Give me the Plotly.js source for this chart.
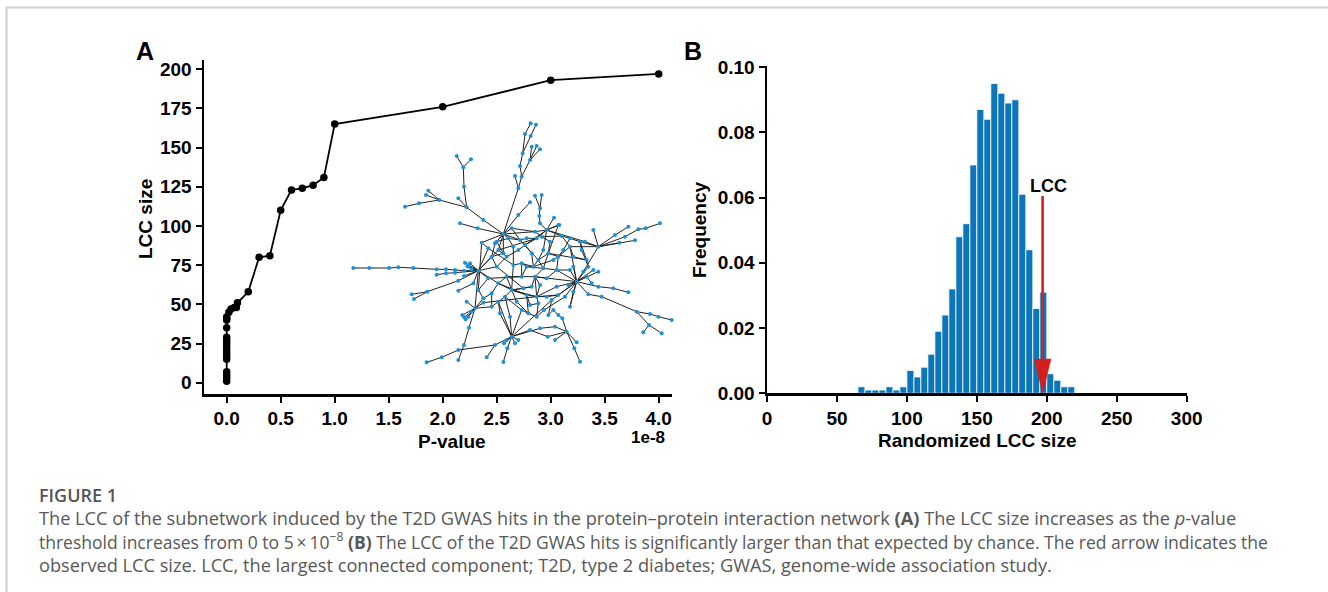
<!DOCTYPE html>
<html>
<head>
<meta charset="utf-8">
<script src="https://cdn.plot.ly/plotly-3.0.1.min.js"></script>
<style>html,body{margin:0;padding:0;background:#fff;}#chart{width:1328px;height:592px;}</style>
</head>
<body>
<div id="chart"></div>
<script>
// ---------- Panel A data (p-value threshold in units of 1e-8) ----------
const pValue = [0,0,0,0,0,0,0,0,0,0,0,0,0,0,0,0,0.02,0.04,0.07,0.09,0.1,0.2,0.3,0.4,0.5,0.6,0.7,0.8,0.9,1.0,2.0,3.0,4.0];
const lccSize = [1,3,5,7,15,17,19,21,23,25,27,29,35,40,41,42,45,47,48,48,51,58,80,81,110,123,124,126,131,165,176,193,197];
const xTicksA = [0,0.5,1,1.5,2,2.5,3,3.5,4];
const yTicksA = [0,25,50,75,100,125,150,175,200];

// ---------- Panel A inset: network layout (node positions in a 1050 x 810 layout box) ----------
const netX = [415,490,710,515,515,405,775,620,535,380,560,625,470,590,40,88,147,175,220,290,318,345,372,290,318,345,375,382,390,395,372,385,215,222,262,355,355,400,195,237,298,265,258,350,393,370,372,355,430,360,413,545,525,540,548,555,572,588,570,575,590,600,572,570,585,605,600,598,600,642,658,535,825,865,895,917,960,855,885,838,760,735,755,775,820,865,745,785,730,760,775,700,685,690,890,930,955,995,927,910,965,720,703,680,710,645,623,570,625,640,655,667,675,635,260,305,355,355,465,440,490,502,525,492,387,372,367,373,377,385,393,380,430,500,535,425,445,470,475,455,490,505,515,540,535,555,585,590,605,655,665,690,690,720,655,640,595,580,545,545,585,610,650,740,745,500,520,500,550,560,575,595,475,445,455,430,415,455,475,495,545,565,590,612,655,600,645,465,520,560,575,610,630,670,700,725,690,620,650,600,530,480,510,570,620,700,740];
const netY = [482,372,515,540,680,595,410,360,235,292,470,430,470,560,474,474,474,472,474,478,478,480,482,494,490,488,458,468,460,478,498,470,553,567,545,512,542,520,290,280,270,242,255,138,148,172,230,265,330,340,355,200,198,168,130,72,40,44,150,110,108,118,78,277,257,255,295,318,340,323,345,315,375,350,358,355,340,380,391,398,360,395,520,530,535,547,553,560,485,480,485,470,525,590,605,612,620,630,645,667,670,755,715,665,697,690,680,660,615,600,615,625,560,570,757,742,720,750,705,742,756,715,700,700,653,705,615,622,628,620,605,575,578,690,690,398,415,395,420,440,430,385,355,390,420,405,365,385,380,345,378,385,410,395,440,450,450,470,460,500,500,475,480,450,470,440,465,500,535,555,530,580,520,505,550,565,540,590,575,560,600,610,620,600,555,655,650,400,410,385,430,420,395,420,440,420,480,505,530,525,575,610,620,585,560,545,500];
const edgeFrom = [14,15,16,17,18,19,20,21,22,23,24,25,26,27,28,29,30,31,32,33,34,35,36,37,38,39,41,42,40,43,44,45,46,47,9,48,49,50,8,8,8,51,53,54,55,54,62,51,58,58,58,63,71,64,65,66,67,68,69,70,6,72,6,6,6,77,74,75,6,81,7,2,83,84,2,86,2,88,2,2,2,2,2,87,94,95,96,94,98,98,101,102,104,103,103,106,107,108,109,110,108,113,112,111,114,115,116,118,119,120,121,122,123,133,134,5,124,125,126,127,128,129,130,131,0,5,132,1,1,1,1,1,1,142,1,146,148,150,151,153,1,143,156,161,162,0,136,0,139,0,138,147,0,173,159,160,0,12,165,144,145,0,172,3,3,3,3,3,166,158,157,155,154,152,3,3,13,184,13,4,178,177,4,180,181,182,183,185,186,4,10,10,10,10,11,11,11,11,163,164,7,7,7,152,171,13,176,175,135,174,174,137,12,136,4,172,169,137,140,141,143,145,156,158,160,161,154,167,167,168,170,169,179,178,174,176,150,153,138,142,12,187,187,188,188,189,189,190,190,191,191,192,192,193,193,194,194,195,195,196,196,197,197,198,198,199,199,200,200,201,201,202,202,203,203,204,204,205,205,206,206];
const edgeTo = [15,16,17,18,19,20,21,22,0,24,25,0,0,0,0,0,0,0,34,34,35,0,37,0,39,40,40,40,9,45,45,46,9,9,48,1,50,1,1,51,52,53,54,55,56,62,57,58,59,60,61,71,1,66,66,67,68,7,7,7,72,73,79,78,77,74,75,76,80,6,81,83,84,85,86,87,88,6,89,90,91,92,93,94,95,96,97,98,99,100,102,103,103,105,106,107,4,109,110,111,113,2,2,103,115,116,118,4,118,121,4,4,4,4,4,124,125,117,5,5,5,5,5,5,5,132,13,141,137,135,140,138,142,143,146,148,150,151,153,6,143,156,161,162,2,136,135,139,140,138,147,7,173,159,160,2,12,165,144,145,7,172,3,167,168,169,179,166,158,157,155,154,152,6,170,13,184,2,160,178,177,5,180,181,182,183,112,186,103,185,157,158,159,161,156,154,149,163,164,2,149,150,146,2,182,171,175,5,176,175,177,141,168,166,113,169,181,140,165,143,145,147,157,159,161,11,162,172,159,170,160,13,180,179,172,173,152,163,165,146,139,1,139,141,166,147,143,145,157,7,156,148,11,151,154,152,163,153,164,162,2,160,162,2,13,13,160,3,181,178,4,179,4,171,169,13,184,2,93,2,82];

// ---------- Panel B data (randomized LCC size histogram, bin width 5) ----------
const binStart = [65,70,75,80,85,90,95,100,105,110,115,120,125,130,135,140,145,150,155,160,165,170,175,180,185,190,195,200,205,210,215];
const frequency = [0.002,0.001,0.001,0.001,0.002,0.001,0.002,0.007,0.005,0.008,0.012,0.019,0.024,0.032,0.048,0.052,0.070,0.087,0.084,0.095,0.092,0.089,0.090,0.061,0.044,0.026,0.031,0.006,0.004,0.002,0.002];
const binWidth = 5;
const observedLCC = 197;
const arrowTopFreq = 0.0605;
const xTicksB = [0,50,100,150,200,250,300];
const yTicksB = [0,0.02,0.04,0.06,0.08,0.10];

// ---------- caption text ----------
const captionLines = [
  'The LCC of the subnetwork induced by the T2D GWAS hits in the protein\u2013protein interaction network <b>(A)</b> The LCC size increases as the <i>p</i>-value',
  '<span style="font-size:17.5px">threshold increases from 0 to 5\u2009\u00d7\u200910<sup>\u22128</sup> <b>(B)</b> The LCC of the T2D GWAS hits is significantly larger than that expected by chance. The red arrow indicates the</span>',
  'observed LCC size. LCC, the largest connected component; T2D, type 2 diabetes; GWAS, genome-wide association study.'
];

// ---------- helpers ----------
const W = 1328, H = 592;
const px = v => v / W;
const py = v => 1 - v / H;
const FONT = 'Liberation Sans, Arial, Helvetica, sans-serif';
const CAP = 'Open Sans, Noto Sans, sans-serif';

// network edge polyline
const ex = [], ey = [];
for (let i = 0; i < edgeFrom.length; i++) {
  ex.push(netX[edgeFrom[i]], netX[edgeTo[i]], null);
  ey.push(netY[edgeFrom[i]], netY[edgeTo[i]], null);
}

const traces = [
  { type: 'scatter', mode: 'lines', x: ex, y: ey, xaxis: 'x3', yaxis: 'y3',
    line: { color: '#222', width: 1 }, hoverinfo: 'skip', showlegend: false },
  { type: 'scatter', mode: 'markers', x: netX, y: netY, xaxis: 'x3', yaxis: 'y3',
    marker: { color: '#1e90d6', size: 4 }, showlegend: false },
  { type: 'scatter', mode: 'lines+markers', x: pValue, y: lccSize, xaxis: 'x', yaxis: 'y',
    line: { color: '#000', width: 1.8 }, marker: { color: '#000', size: 7.5 }, showlegend: false, cliponaxis: false },
  { type: 'bar', x: binStart.map(b => b + binWidth / 2), y: frequency, width: binWidth,
    xaxis: 'x2', yaxis: 'y2', marker: { color: '#0b76bb', line: { color: '#ffffff', width: 0.8 } }, showlegend: false }
];

const tickFont = { family: FONT, size: 19, color: '#000', weight: 700 };
const axisCommon = {
  showgrid: false, zeroline: false, showline: true, linecolor: '#000', linewidth: 2.5,
  ticks: 'outside', ticklen: 6, tickwidth: 2, tickcolor: '#000', tickfont: tickFont, fixedrange: true
};

function label(text, x, y, size, extra) {
  return Object.assign({ text: text, xref: 'paper', yref: 'paper', x: px(x), y: py(y),
    xanchor: 'center', yanchor: 'middle', showarrow: false,
    font: { family: FONT, size: size, color: '#000', weight: 700 } }, extra || {});
}

const shaftBottom = 0.0105;
const layout = {
  width: W, height: H, margin: { l: 0, r: 0, t: 0, b: 0 },
  paper_bgcolor: '#fff', plot_bgcolor: 'rgba(0,0,0,0)', showlegend: false,
  bargap: 0,
  xaxis: Object.assign({}, axisCommon, { domain: [px(204), px(672)], range: [-0.21, 4.123], anchor: 'y',
    tickvals: xTicksA, tickformat: '.1f' }),
  yaxis: Object.assign({}, axisCommon, { domain: [py(394), py(60)], range: [-7.2, 205.9], anchor: 'x',
    tickvals: yTicksA }),
  xaxis2: Object.assign({}, axisCommon, { domain: [px(767), px(1186.7)], range: [0, 300], anchor: 'y2',
    tickvals: xTicksB }),
  yaxis2: Object.assign({}, axisCommon, { domain: [py(393.3), py(65.5)], range: [0, 0.1005], anchor: 'x2',
    tickvals: yTicksB, tickformat: '.2f' }),
  xaxis3: { domain: [px(340), px(690)], range: [0, 1050], visible: false, anchor: 'y3', fixedrange: true },
  yaxis3: { domain: [py(380), py(110)], range: [810, 0], visible: false, anchor: 'x3', fixedrange: true },
  shapes: [
    { type: 'line', xref: 'paper', yref: 'paper', x0: px(6), x1: 1, y0: py(7.5), y1: py(7.5), line: { color: '#cfcfcf', width: 2 } },
    { type: 'line', xref: 'paper', yref: 'paper', x0: px(6.5), x1: px(6.5), y0: py(7), y1: 0, line: { color: '#cfcfcf', width: 2 } },
    { type: 'line', xref: 'x2', yref: 'y2', x0: observedLCC, x1: observedLCC, y0: arrowTopFreq, y1: shaftBottom,
      line: { color: '#d41f1f', width: 2.6 } },
    { type: 'path', xref: 'x2', yref: 'y2', fillcolor: '#d41f1f', line: { color: '#d41f1f', width: 0.5 },
      path: `M ${observedLCC - 6} ${shaftBottom} L ${observedLCC + 6} ${shaftBottom} L ${observedLCC} 0 Z` }
  ],
  annotations: [
    label('A', 145, 51, 25),
    label('B', 693, 51, 25),
    label('LCC size', 145, 219, 19, { textangle: -90 }),
    label('P-value', 452, 441, 19),
    label('1e-8', 648, 437, 17),
    label('Frequency', 700, 230, 19, { textangle: -90 }),
    label('Randomized LCC size', 977, 440, 19),
    { text: 'LCC', xref: 'x2', yref: 'y2', x: observedLCC + 4, y: 0.0636, xanchor: 'center', yanchor: 'middle', showarrow: false,
      font: { family: FONT, size: 18, color: '#000', weight: 700 } },
    { text: 'FIGURE 1', xref: 'paper', yref: 'paper', x: px(37), y: py(495), xanchor: 'left', yanchor: 'middle', showarrow: false,
      font: { family: CAP, size: 18, color: '#555', weight: 600 } },
    { text: captionLines.join('<br>'), xref: 'paper', yref: 'paper', x: px(37), y: py(541.5), xanchor: 'left', yanchor: 'middle',
      align: 'left', showarrow: false, font: { family: CAP, size: 18.2, color: '#585858' } }
  ]
};

Plotly.newPlot('chart', traces, layout, { staticPlot: true, displayModeBar: false });
</script>
</body>
</html>
